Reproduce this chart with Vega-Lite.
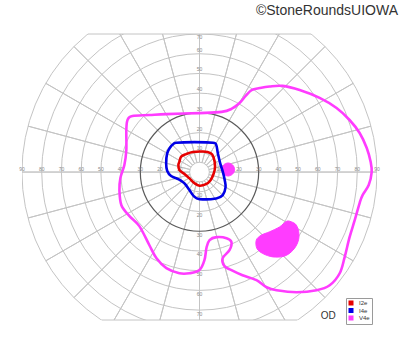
{
  "$schema": "https://vega.github.io/schema/vega-lite/v6.json",
  "width": 355,
  "height": 286,
  "autosize": {"type": "none"},
  "padding": {"left": 22, "top": 34, "right": 23, "bottom": 32},
  "background": "white",
  "config": {"view": {"stroke": null}},
  "title": {"text": "©StoneRoundsUIOWA", "anchor": "end", "frame": "group", "dx": 21, "offset": 16, "fontSize": 14, "font": "Liberation Sans", "fontWeight": "normal", "color": "#333333"},
  "datasets": {
    "rings": [{"r": 5}, {"r": 10}, {"r": 20}, {"r": 40}, {"r": 50}, {"r": 60}, {"r": 70}, {"r": 80}, {"r": 90}],
    "mer": [{"a": 0}, {"a": 15}, {"a": 30}, {"a": 45}, {"a": 60}, {"a": 75}, {"a": 90}, {"a": 105}, {"a": 120}, {"a": 135}, {"a": 150}, {"a": 165}, {"a": 180}, {"a": 195}, {"a": 210}, {"a": 225}, {"a": 240}, {"a": 255}, {"a": 270}, {"a": 285}, {"a": 300}, {"a": 315}, {"a": 330}, {"a": 345}],
    "edges": [{"y": 70, "xa": -56.6, "xb": 56.6}, {"y": -75, "xa": -49.6, "xb": 49.6}],
    "labH": [{"x": -90, "label": "90"}, {"x": -80, "label": "80"}, {"x": -70, "label": "70"}, {"x": -60, "label": "60"}, {"x": -50, "label": "50"}, {"x": -40, "label": "40"}, {"x": -30, "label": "30"}, {"x": -20, "label": "20"}, {"x": -10, "label": "10"}, {"x": 10, "label": "10"}, {"x": 20, "label": "20"}, {"x": 30, "label": "30"}, {"x": 40, "label": "40"}, {"x": 50, "label": "50"}, {"x": 60, "label": "60"}, {"x": 70, "label": "70"}, {"x": 80, "label": "80"}, {"x": 90, "label": "90"}],
    "labU": [{"y": 10, "label": "10"}, {"y": 20, "label": "20"}, {"y": 30, "label": "30"}, {"y": 40, "label": "40"}, {"y": 50, "label": "50"}, {"y": 60, "label": "60"}],
    "labT": [{"y": 70, "label": "70"}],
    "labD": [{"y": -10, "label": "10"}, {"y": -20, "label": "20"}, {"y": -30, "label": "30"}, {"y": -40, "label": "40"}, {"y": -50, "label": "50"}, {"y": -60, "label": "60"}, {"y": -70, "label": "70"}],
    "iso": [
      {"t": "I2e", "i": 1, "x": -10.2, "y": 5.2}, {"t": "I2e", "i": 2, "x": -9.3, "y": 7.8}, {"t": "I2e", "i": 3, "x": -6.8, "y": 9.1}, {"t": "I2e", "i": 4, "x": -3.4, "y": 10.2}, {"t": "I2e", "i": 5, "x": 1.7, "y": 10.4}, {"t": "I2e", "i": 6, "x": 5.6, "y": 9.6}, {"t": "I2e", "i": 7, "x": 7.1, "y": 7.6}, {"t": "I2e", "i": 8, "x": 7.9, "y": 2.7}, {"t": "I2e", "i": 9, "x": 7.1, "y": -1.0}, {"t": "I2e", "i": 10, "x": 5.6, "y": -4.1}, {"t": "I2e", "i": 11, "x": 3.3, "y": -6.1}, {"t": "I2e", "i": 12, "x": 0, "y": -6.9}, {"t": "I2e", "i": 13, "x": -2.5, "y": -5.7}, {"t": "I2e", "i": 14, "x": -5.1, "y": -3.2}, {"t": "I2e", "i": 15, "x": -7.6, "y": -1.0}, {"t": "I2e", "i": 16, "x": -10.2, "y": 1.0}, {"t": "I2e", "i": 17, "x": -10.7, "y": 3.6},
      {"t": "I4e", "i": 1, "x": -11.8, "y": 14.9}, {"t": "I4e", "i": 2, "x": -2.5, "y": 15.2}, {"t": "I4e", "i": 3, "x": 6.8, "y": 14.9}, {"t": "I4e", "i": 4, "x": 8.5, "y": 13.7}, {"t": "I4e", "i": 5, "x": 9.3, "y": 9.5}, {"t": "I4e", "i": 6, "x": 10.5, "y": 4.4}, {"t": "I4e", "i": 7, "x": 11.8, "y": 0.2}, {"t": "I4e", "i": 8, "x": 12.8, "y": -4.1}, {"t": "I4e", "i": 9, "x": 13.2, "y": -7.8}, {"t": "I4e", "i": 10, "x": 11.8, "y": -11.7}, {"t": "I4e", "i": 11, "x": 8.5, "y": -13.4}, {"t": "I4e", "i": 12, "x": 0, "y": -13.7}, {"t": "I4e", "i": 13, "x": -2.9, "y": -12.2}, {"t": "I4e", "i": 14, "x": -5.1, "y": -9.1}, {"t": "I4e", "i": 15, "x": -7.6, "y": -5.7}, {"t": "I4e", "i": 16, "x": -10.5, "y": -3.7}, {"t": "I4e", "i": 17, "x": -14.4, "y": -2.0}, {"t": "I4e", "i": 18, "x": -16.4, "y": 0.7}, {"t": "I4e", "i": 19, "x": -16.9, "y": 4.4}, {"t": "I4e", "i": 20, "x": -16.4, "y": 9.5}, {"t": "I4e", "i": 21, "x": -14.9, "y": 12.5}, {"t": "I4e", "i": 22, "x": -13.2, "y": 14.2},
      {"t": "V4e", "i": 1, "x": -36.5, "y": 26.4}, {"t": "V4e", "i": 2, "x": -34.0, "y": 28.4}, {"t": "V4e", "i": 3, "x": -25.4, "y": 28.9}, {"t": "V4e", "i": 4, "x": -16.8, "y": 29.4}, {"t": "V4e", "i": 5, "x": 0, "y": 29.9}, {"t": "V4e", "i": 6, "x": 11.2, "y": 30.5}, {"t": "V4e", "i": 7, "x": 16.2, "y": 32.0}, {"t": "V4e", "i": 8, "x": 20.3, "y": 35.0}, {"t": "V4e", "i": 9, "x": 23.4, "y": 38.6}, {"t": "V4e", "i": 10, "x": 26.4, "y": 41.6}, {"t": "V4e", "i": 11, "x": 30.5, "y": 42.6}, {"t": "V4e", "i": 12, "x": 35.5, "y": 43.4}, {"t": "V4e", "i": 13, "x": 42.1, "y": 43.7}, {"t": "V4e", "i": 14, "x": 50.8, "y": 41.6}, {"t": "V4e", "i": 15, "x": 60.9, "y": 37.6}, {"t": "V4e", "i": 16, "x": 69.5, "y": 32.5}, {"t": "V4e", "i": 17, "x": 76.1, "y": 26.4}, {"t": "V4e", "i": 18, "x": 81.2, "y": 19.8}, {"t": "V4e", "i": 19, "x": 84.8, "y": 12.2}, {"t": "V4e", "i": 20, "x": 86.8, "y": 5.1}, {"t": "V4e", "i": 21, "x": 87.3, "y": 0}, {"t": "V4e", "i": 22, "x": 85.8, "y": -6.6}, {"t": "V4e", "i": 23, "x": 82.7, "y": -11.7}, {"t": "V4e", "i": 24, "x": 81.2, "y": -15.7}, {"t": "V4e", "i": 25, "x": 78.7, "y": -24.4}, {"t": "V4e", "i": 26, "x": 76.1, "y": -33.0}, {"t": "V4e", "i": 27, "x": 73.6, "y": -43.1}, {"t": "V4e", "i": 28, "x": 71.1, "y": -51.3}, {"t": "V4e", "i": 29, "x": 66.0, "y": -57.4}, {"t": "V4e", "i": 30, "x": 59.4, "y": -59.9}, {"t": "V4e", "i": 31, "x": 49.2, "y": -60.9}, {"t": "V4e", "i": 32, "x": 39.1, "y": -59.9}, {"t": "V4e", "i": 33, "x": 34.0, "y": -58.4}, {"t": "V4e", "i": 34, "x": 28.9, "y": -54.8}, {"t": "V4e", "i": 35, "x": 21.8, "y": -52.3}, {"t": "V4e", "i": 36, "x": 16.2, "y": -49.7}, {"t": "V4e", "i": 37, "x": 12.7, "y": -47.7}, {"t": "V4e", "i": 38, "x": 11.7, "y": -43.7}, {"t": "V4e", "i": 39, "x": 15.2, "y": -39.6}, {"t": "V4e", "i": 40, "x": 16.2, "y": -35.5}, {"t": "V4e", "i": 41, "x": 13.7, "y": -33.5}, {"t": "V4e", "i": 42, "x": 8.6, "y": -33.0}, {"t": "V4e", "i": 43, "x": 5.1, "y": -34.5}, {"t": "V4e", "i": 44, "x": 3.6, "y": -38.1}, {"t": "V4e", "i": 45, "x": 2.5, "y": -44.7}, {"t": "V4e", "i": 46, "x": 0, "y": -49.7}, {"t": "V4e", "i": 47, "x": -5.1, "y": -51.3}, {"t": "V4e", "i": 48, "x": -10.2, "y": -51.3}, {"t": "V4e", "i": 49, "x": -16.8, "y": -48.7}, {"t": "V4e", "i": 50, "x": -21.8, "y": -43.7}, {"t": "V4e", "i": 51, "x": -25.4, "y": -37.1}, {"t": "V4e", "i": 52, "x": -30.5, "y": -27.4}, {"t": "V4e", "i": 53, "x": -35.5, "y": -22.3}, {"t": "V4e", "i": 54, "x": -39.6, "y": -16.8}, {"t": "V4e", "i": 55, "x": -40.6, "y": -9.1}, {"t": "V4e", "i": 56, "x": -40.1, "y": -3.0}, {"t": "V4e", "i": 57, "x": -38.1, "y": 3.6}, {"t": "V4e", "i": 58, "x": -37.1, "y": 11.2}, {"t": "V4e", "i": 59, "x": -37.1, "y": 21.3}
    ],
    "patches": [
      {"s": "scotoma", "i": 1, "x": 46.5, "y": -25.2}, {"s": "scotoma", "i": 2, "x": 49.1, "y": -26.9}, {"s": "scotoma", "i": 3, "x": 50.4, "y": -31.1}, {"s": "scotoma", "i": 4, "x": 49.9, "y": -35.4}, {"s": "scotoma", "i": 5, "x": 47.4, "y": -39.6}, {"s": "scotoma", "i": 6, "x": 43.1, "y": -42.6}, {"s": "scotoma", "i": 7, "x": 37.2, "y": -43.0}, {"s": "scotoma", "i": 8, "x": 32.1, "y": -41.3}, {"s": "scotoma", "i": 9, "x": 29.1, "y": -38.7}, {"s": "scotoma", "i": 10, "x": 28.8, "y": -34.5}, {"s": "scotoma", "i": 11, "x": 31.3, "y": -32.0}, {"s": "scotoma", "i": 12, "x": 35.5, "y": -30.3}, {"s": "scotoma", "i": 13, "x": 40.6, "y": -27.8}, {"s": "scotoma", "i": 14, "x": 44.0, "y": -25.0},
      {"s": "blind", "i": 1, "x": 17.8, "y": 1.3}, {"s": "blind", "i": 2, "x": 16.8, "y": 3.6}, {"s": "blind", "i": 3, "x": 14.5, "y": 4.6}, {"s": "blind", "i": 4, "x": 12.2, "y": 3.6}, {"s": "blind", "i": 5, "x": 11.2, "y": 1.3}, {"s": "blind", "i": 6, "x": 12.2, "y": -1.0}, {"s": "blind", "i": 7, "x": 14.5, "y": -2.0}, {"s": "blind", "i": 8, "x": 16.8, "y": -1.0}
    ]
  },
  "layer": [
    {
      "data": {"name": "rings"},
      "mark": {"type": "arc", "fill": "transparent", "stroke": "#c4c4c4", "strokeWidth": 1, "clip": true},
      "encoding": {
        "x": {"datum": 0, "type": "quantitative", "scale": {"domain": [-90, 90], "nice": false, "zero": false}, "axis": null},
        "y": {"datum": 0, "type": "quantitative", "scale": {"domain": [-75, 70], "nice": false, "zero": false}, "axis": null},
        "radius": {"field": "r", "type": "quantitative", "stack": null, "scale": {"type": "linear", "domain": [0, 90], "range": [0, 177.5], "nice": false, "zero": true}},
        "theta": {"value": 0},
        "theta2": {"value": 6.2832}
      }
    },
    {
      "data": {"name": "mer"},
      "mark": {"type": "arc", "fill": "transparent", "stroke": "#c4c4c4", "strokeWidth": 1, "clip": true},
      "encoding": {
        "x": {"datum": 0, "type": "quantitative", "scale": {"domain": [-90, 90], "nice": false, "zero": false}, "axis": null},
        "y": {"datum": 0, "type": "quantitative", "scale": {"domain": [-75, 70], "nice": false, "zero": false}, "axis": null},
        "theta": {"field": "a", "type": "quantitative", "stack": null, "scale": {"type": "linear", "domain": [0, 360], "range": [0, 6.2832], "nice": false, "zero": true}},
        "theta2": {"field": "a"},
        "radius": {"datum": 90, "type": "quantitative", "stack": null, "scale": {"type": "linear", "domain": [0, 90], "range": [0, 177.5], "nice": false, "zero": true}},
        "radius2": {"datum": 5}
      }
    },
    {
      "data": {"values": [{"r": 30}]},
      "mark": {"type": "arc", "fill": "transparent", "stroke": "#5a5a5a", "strokeWidth": 1.2, "clip": true},
      "encoding": {
        "x": {"datum": 0, "type": "quantitative", "scale": {"domain": [-90, 90], "nice": false, "zero": false}, "axis": null},
        "y": {"datum": 0, "type": "quantitative", "scale": {"domain": [-75, 70], "nice": false, "zero": false}, "axis": null},
        "radius": {"field": "r", "type": "quantitative", "stack": null, "scale": {"type": "linear", "domain": [0, 90], "range": [0, 177.5], "nice": false, "zero": true}},
        "theta": {"value": 0},
        "theta2": {"value": 6.2832}
      }
    },
    {
      "data": {"name": "edges"},
      "mark": {"type": "rule", "stroke": "#c4c4c4", "strokeWidth": 1},
      "encoding": {
        "x": {"field": "xa", "type": "quantitative", "scale": {"domain": [-90, 90], "nice": false, "zero": false}, "axis": null},
        "x2": {"field": "xb"},
        "y": {"field": "y", "type": "quantitative", "scale": {"domain": [-75, 70], "nice": false, "zero": false}, "axis": null}
      }
    },
    {
      "data": {"name": "labH"},
      "mark": {"type": "text", "font": "Liberation Sans", "fontSize": 5, "color": "#8a8a8a", "baseline": "bottom", "dy": -0.5},
      "encoding": {
        "x": {"field": "x", "type": "quantitative", "scale": {"domain": [-90, 90], "nice": false, "zero": false}, "axis": null},
        "y": {"datum": 0, "type": "quantitative", "scale": {"domain": [-75, 70], "nice": false, "zero": false}, "axis": null},
        "text": {"field": "label"}
      }
    },
    {
      "data": {"name": "labU"},
      "mark": {"type": "text", "font": "Liberation Sans", "fontSize": 5, "color": "#8a8a8a", "baseline": "bottom", "dy": -1},
      "encoding": {
        "x": {"datum": 0, "type": "quantitative", "scale": {"domain": [-90, 90], "nice": false, "zero": false}, "axis": null},
        "y": {"field": "y", "type": "quantitative", "scale": {"domain": [-75, 70], "nice": false, "zero": false}, "axis": null},
        "text": {"field": "label"}
      }
    },
    {
      "data": {"name": "labT"},
      "mark": {"type": "text", "font": "Liberation Sans", "fontSize": 5, "color": "#8a8a8a", "baseline": "top", "dy": 1},
      "encoding": {
        "x": {"datum": 0, "type": "quantitative", "scale": {"domain": [-90, 90], "nice": false, "zero": false}, "axis": null},
        "y": {"field": "y", "type": "quantitative", "scale": {"domain": [-75, 70], "nice": false, "zero": false}, "axis": null},
        "text": {"field": "label"}
      }
    },
    {
      "data": {"name": "labD"},
      "mark": {"type": "text", "font": "Liberation Sans", "fontSize": 5, "color": "#8a8a8a", "baseline": "top", "dy": 1.5},
      "encoding": {
        "x": {"datum": 0, "type": "quantitative", "scale": {"domain": [-90, 90], "nice": false, "zero": false}, "axis": null},
        "y": {"field": "y", "type": "quantitative", "scale": {"domain": [-75, 70], "nice": false, "zero": false}, "axis": null},
        "text": {"field": "label"}
      }
    },
    {
      "data": {"name": "patches"},
      "mark": {"type": "line", "interpolate": "cardinal-closed", "fill": "#ff3cff", "stroke": "#ff3cff", "strokeWidth": 1},
      "encoding": {
        "x": {"field": "x", "type": "quantitative", "scale": {"domain": [-90, 90], "nice": false, "zero": false}, "axis": null},
        "y": {"field": "y", "type": "quantitative", "scale": {"domain": [-75, 70], "nice": false, "zero": false}, "axis": null},
        "detail": {"field": "s", "type": "nominal"},
        "order": {"field": "i", "type": "quantitative"}
      }
    },
    {
      "data": {"name": "iso"},
      "mark": {"type": "line", "interpolate": "cardinal-closed", "strokeWidth": 2.6},
      "encoding": {
        "x": {"field": "x", "type": "quantitative", "scale": {"domain": [-90, 90], "nice": false, "zero": false}, "axis": null},
        "y": {"field": "y", "type": "quantitative", "scale": {"domain": [-75, 70], "nice": false, "zero": false}, "axis": null},
        "color": {"field": "t", "type": "nominal", "scale": {"domain": ["I2e", "I4e", "V4e"], "range": ["#e60000", "#0000e6", "#ff3cff"]},
          "legend": {"title": null, "orient": "none", "legendX": 324, "legendY": 264, "symbolType": "square", "symbolSize": 4, "symbolStrokeWidth": 3, "labelFontSize": 6, "labelFont": "Liberation Sans", "labelColor": "#333333", "rowPadding": 0.5, "clipHeight": 6.2, "padding": 2, "strokeColor": "#9a9a9a", "fillColor": "white", "labelOffset": 5, "cornerRadius": 0}},
        "order": {"field": "i", "type": "quantitative"}
      }
    },
    {
      "data": {"values": [{"x": 65.3, "y": -72.9, "label": "OD"}]},
      "mark": {"type": "text", "font": "Liberation Sans", "fontSize": 10, "color": "#333333"},
      "encoding": {
        "x": {"field": "x", "type": "quantitative", "scale": {"domain": [-90, 90], "nice": false, "zero": false}, "axis": null},
        "y": {"field": "y", "type": "quantitative", "scale": {"domain": [-75, 70], "nice": false, "zero": false}, "axis": null},
        "text": {"field": "label"}
      }
    }
  ]
}
